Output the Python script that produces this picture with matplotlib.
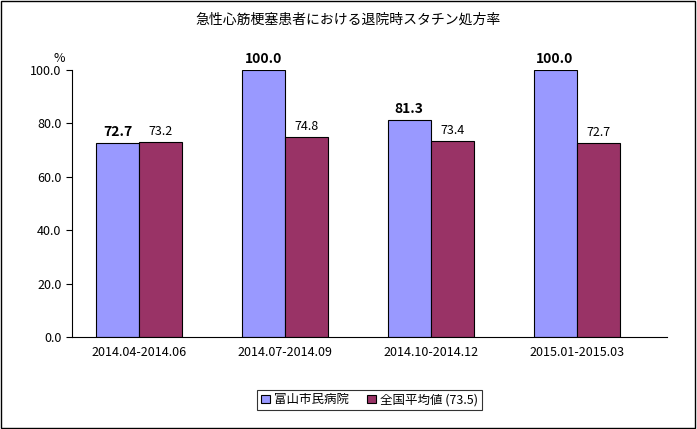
import matplotlib
matplotlib.use('Agg')
import matplotlib.pyplot as plt
import numpy as np

plt.rcParams['font.family'] = 'Noto Sans CJK JP'

periods = ['2014.04-2014.06', '2014.07-2014.09', '2014.10-2014.12', '2015.01-2015.03']
hospital = [72.7, 100.0, 81.3, 100.0]
national = [73.2, 74.8, 73.4, 72.7]
yticks = [0, 20, 40, 60, 80, 100]

fig = plt.figure(figsize=(6.97, 4.29), dpi=100)
fig.patches.append(plt.Rectangle((0.002, 0.003), 0.995, 0.994, transform=fig.transFigure,
                                 fill=False, edgecolor='black', lw=1))
ax = fig.add_axes([0.103, 0.214, 0.854, 0.623])

x = np.arange(len(periods))
w = 0.295
b1 = ax.bar(x - w / 2, hospital, w, color='#9999FF', edgecolor='black', lw=0.8, label='富山市民病院')
b2 = ax.bar(x + w / 2, national, w, color='#993366', edgecolor='black', lw=0.8, label='全国平均値 (73.5)')

for xi, v in zip(x, hospital):
    ax.text(xi - w / 2, v + 1.5, f'{v:.1f}', ha='center', va='bottom', fontsize=10, fontweight='bold')
for xi, v in zip(x, national):
    ax.text(xi + w / 2, v + 1.5, f'{v:.1f}', ha='center', va='bottom', fontsize=9)

ax.set_xlim(-0.46, 3.62)
ax.set_ylim(0, 100)
ax.set_yticks(yticks)
ax.set_yticklabels([f'{t:.1f}' for t in yticks], fontsize=9)
ax.set_xticks(x)
ax.set_xticklabels(periods, fontsize=9)
ax.tick_params(axis='x', length=0, pad=6)
ax.tick_params(axis='y', direction='out', length=4)
for s in ['top', 'right']:
    ax.spines[s].set_visible(False)
ax.text(-0.03, 1.03, '%', transform=ax.transAxes, fontsize=9)

fig.text(0.5, 0.945, '急性心筋梗塞患者における退院時スタチン処方率', ha='center', fontsize=10)
leg = fig.legend(handles=[b1, b2], loc='center', bbox_to_anchor=(0.53, 0.068), ncol=2,
                 fontsize=9, frameon=True, fancybox=False, edgecolor='black',
                 handlelength=0.7, handletextpad=0.3, columnspacing=1.5, borderpad=0.3)
leg.get_frame().set_linewidth(0.8)

fig.savefig('out.png', dpi=100)
